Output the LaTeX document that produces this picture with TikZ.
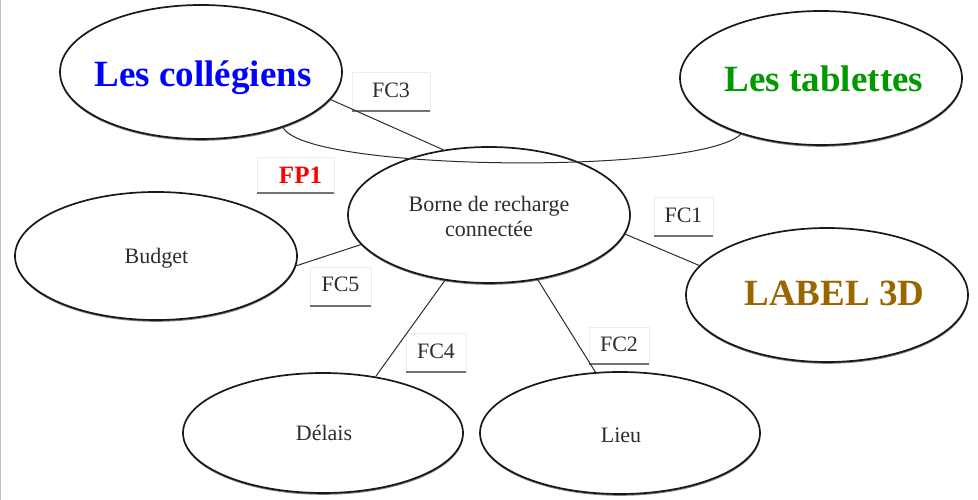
\documentclass[tikz,border=0pt]{standalone}
\usepackage{fontspec}
\setmainfont{Liberation Serif}
\usetikzlibrary{shapes.geometric,shadows}
\definecolor{cblue}{RGB}{0,0,255}
\definecolor{cgreen}{RGB}{0,153,0}
\definecolor{cbrown}{RGB}{153,102,0}
\definecolor{cred}{RGB}{255,0,0}
\definecolor{ctext}{RGB}{45,45,45}
\begin{document}
\begin{tikzpicture}[x=1pt,y=-1pt,
  oval/.style={ellipse, draw=black!90, line width=1.7pt, fill=white, inner sep=0pt,
    minimum width=282pt, minimum height=134pt,
    drop shadow={shadow xshift=0.3pt, shadow yshift=-1.8pt, fill=black!50, opacity=1}},
  bigtxt/.style={font=\fontsize{37}{40}\selectfont\bfseries, inner sep=0pt, anchor=base},
  smalltxt/.style={font=\fontsize{22}{25}\selectfont, text=ctext, inner sep=0pt, anchor=base},
  fcbox/.style={draw=black!7, line width=0.6pt, inner sep=0pt, anchor=base,
    font=\fontsize{22}{25}\selectfont, text=ctext},
  uline/.style={draw=black!55, line width=1.8pt},
  conn/.style={draw=ctext, line width=1pt}]
\useasboundingbox (0,0) rectangle (978,500);
\draw[black!25, line width=1pt] (0.5,0) -- (0.5,500);

% ellipses
\node[oval] (coll) at (201,72) {};
\node[oval] (tab) at (821,78) {};
\node[oval, minimum height=136pt] (borne) at (489,215) {};
\node[oval, minimum height=128pt] (budget) at (156,256) {};
\node[oval, minimum width=280pt, minimum height=120pt] (delais) at (323,433) {};
\node[oval, minimum width=280pt, minimum height=122pt] (lieu) at (620,433) {};
\node[oval] (label) at (827,295) {};

% ellipse texts
\node[bigtxt, text=cblue] (colltxt) at (203,87) {Les collégiens};
\node[bigtxt, text=cgreen] (tabtxt) at (824,92) {Les tablettes};
\node[bigtxt, text=cbrown] (labeltxt) at (834.5,305) {LABEL 3D};
\node[smalltxt, anchor=center, align=center] (bornetxt) at (489,216) {Borne de recharge\\connectée};
\node[smalltxt] (budgettxt) at (156.5,263) {Budget};
\node[smalltxt] (delaistxt) at (324,440) {Délais};
\node[smalltxt] (lieutxt) at (621,442) {Lieu};

% label boxes
\node[fcbox, minimum width=78pt, text height=26pt, text depth=13pt] (fc3) at (391,98) {FC3};
\node[fcbox, minimum width=77pt, text height=27pt, text depth=9pt,
  font=\fontsize{25}{28}\selectfont\bfseries, text=cred] (fp1) at (295.5,184) {\hspace*{10pt}FP1};
\node[fcbox, minimum width=59pt, text height=25pt, text depth=13pt] (fc1) at (683.5,222.7) {FC1};
\node[fcbox, minimum width=61pt, text height=24pt, text depth=15pt] (fc5) at (340.5,291) {FC5};
\node[fcbox, minimum width=60pt, text height=25pt, text depth=14pt] (fc4) at (436,358) {FC4};
\node[fcbox, minimum width=60pt, text height=24pt, text depth=13pt] (fc2) at (619,351) {FC2};
\foreach \n in {fc3,fp1,fc1,fc5,fc4,fc2}
  \draw[uline] (\n.south west) -- (\n.south east);

% connectors
\draw[conn] (coll.-12.8) -- (borne.125.3);
\draw[conn] (coll.-34) .. controls (305,172) and (700,175) .. (tab.-145.6);
\draw[conn] (borne.-8.2) -- (label.167);
\draw[conn] (budget.-4) -- (borne.193.5);
\draw[conn] (borne.-124.6) -- (delais.47.1);
\draw[conn] (borne.-53) -- (lieu.112.6);
\end{tikzpicture}
\end{document}
